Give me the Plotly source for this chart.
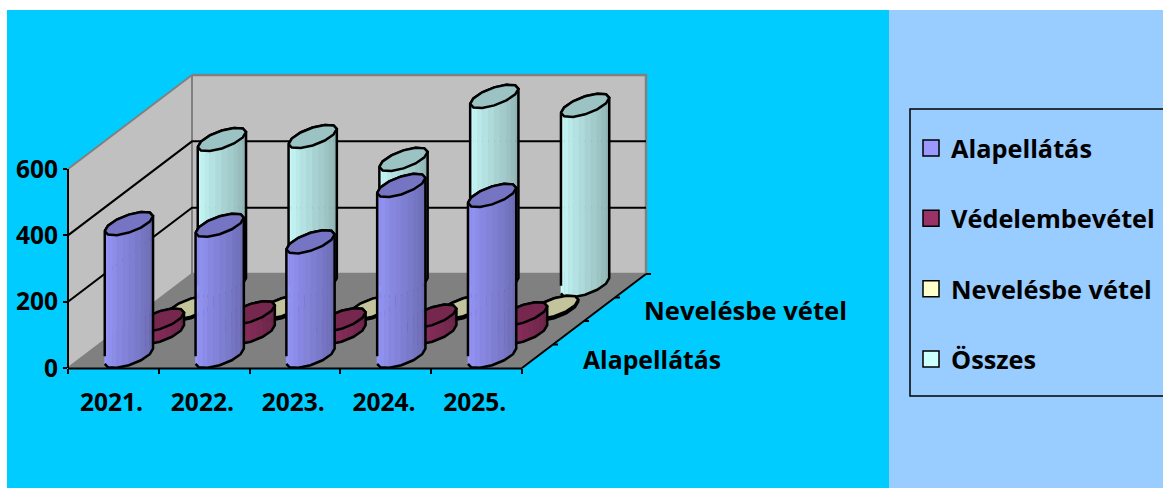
import math
import plotly.graph_objects as go

# ---- data ----
years = ["2021.", "2022.", "2023.", "2024.", "2025."]
series_names = ["Alapellátás", "Védelembevétel", "Nevelésbe vétel", "Összes"]
alapellatas = [400, 395, 345, 515, 485]
vedelembevetel = [38, 60, 39, 50, 57]
nevelesbe_vetel = [5, 6, 5, 6, 6]
osszes = [441, 450, 381, 571, 544]
value_ticks = [0, 200, 400, 600]
depth_labels = ["Alapellátás", "Nevelésbe vétel"]

series_values = [alapellatas, vedelembevetel, nevelesbe_vetel, osszes]
base_colors = [(0x99, 0x99, 0xFF), (0x99, 0x33, 0x66), (0xFF, 0xFF, 0xCC), (0xCC, 0xFF, 0xFF)]

# ---- page geometry ----
W, H = 1163, 488
LEFT, BOTTOM_PX = 68, 368
PX_PER_CAT = 90.8
PX_PER_VAL = 199 / 600
DEPTH_PX = (124, 94)
DX = DEPTH_PX[0] / PX_PER_CAT
DY = DEPTH_PX[1] / PX_PER_VAL
A = 18.5 / PX_PER_CAT
FONT = dict(family="Open Sans", size=24.5, color="black", weight=700)
FONT_WIDE = dict(FONT, size=25.3)
SIDES = 12


def px(x):
    return (x - LEFT) / (W - LEFT)


def py(y):
    return (BOTTOM_PX - y) / BOTTOM_PX


def rgb(c, f=1.0):
    return "rgb(%d,%d,%d)" % tuple(round(v * f) for v in c)


def depth(x, y, d):
    return x + d * DX, y + d * DY


fig = go.Figure()


def poly(xs, ys, fill=None, line="black", width=2):
    fig.add_trace(go.Scatter(
        x=list(xs), y=list(ys), mode="lines", fill="toself" if fill else "none",
        fillcolor=fill, line=dict(color=line, width=width), hoverinfo="skip",
        showlegend=False))


n_cat = len(years)
vmax = value_ticks[-1]

# walls and floor
back = [depth(0, 0, 1), depth(n_cat, 0, 1), depth(n_cat, vmax, 1), depth(0, vmax, 1)]
poly(*zip(*back), fill="#C0C0C0", line="#808080", width=2.5)
side = [(0, 0), depth(0, 0, 1), depth(0, vmax, 1), (0, vmax)]
poly(*zip(*side), fill="#C0C0C0", line="#808080", width=2)
floor = [(0, 0), (n_cat, 0), depth(n_cat, 0, 1), depth(0, 0, 1)]
poly(*zip(*floor), fill="#808080", line="#808080", width=1)

# gridlines
for v in value_ticks[1:-1]:
    pts = [(0, v), depth(0, v, 1), depth(n_cat, v, 1)]
    poly(*zip(*pts), line="black", width=2)

# cylinders, back row first
n_rows = len(series_values)
half_d = 0.5 / n_rows
half = SIDES // 2
for r in range(n_rows - 1, -1, -1):
    color = base_colors[r]
    d = (r + 0.5) / n_rows
    for c, val in enumerate(series_values[r]):
        cx, base = depth(c + 0.5, 0, d)
        bx, by = half_d * DX, half_d * DY
        t0 = math.atan2(bx, A)
        ring = [t0 + math.pi + k * 2 * math.pi / SIDES for k in range(SIDES + 1)]
        ex = [cx + A * math.cos(t) + bx * math.sin(t) for t in ring]
        ey = [by * math.sin(t) for t in ring]
        # shaded side faces, each split into two bands
        for k in range(half):
            for s in range(2):
                u0, u1 = s / 2, (s + 1) / 2
                x0 = ex[k] + (ex[k + 1] - ex[k]) * u0
                x1 = ex[k] + (ex[k + 1] - ex[k]) * u1
                y0 = ey[k] + (ey[k + 1] - ey[k]) * u0
                y1 = ey[k] + (ey[k + 1] - ey[k]) * u1
                f = 1 - 0.32 * (k + u0) / (half - 0.5)
                col = rgb(color, f)
                poly([x0, x1, x1, x0, x0],
                     [base + y0, base + y1, base + val + y1, base + val + y0, base + y0],
                     fill=col, line=col, width=0.6)
        # silhouette
        xs = ex[:half + 1] + ex[half:] + [ex[0]]
        ys = ([base + e for e in ey[:half + 1]]
              + [base + val + e for e in ey[half:]] + [base])
        poly(xs, ys, line="black", width=2.5)
        # top cap
        poly(ex, [base + val + e for e in ey], fill=rgb(color, 0.765), line="black", width=2.5)

# legend entries
for i, name in enumerate(series_names):
    fig.add_trace(go.Scatter(
        x=[None], y=[None], mode="markers", name=name, legendgroup=name,
        marker=dict(symbol="square", size=16, color=rgb(base_colors[i]),
                    line=dict(color="black", width=1.5))))

shapes = [
    dict(type="rect", xref="paper", yref="paper", x0=px(7), x1=px(889), y0=py(488), y1=py(10),
         fillcolor="#00CCFF", line_width=0, layer="below"),
    dict(type="rect", xref="paper", yref="paper", x0=px(889), x1=px(W), y0=py(488), y1=py(10),
         fillcolor="#99CCFF", line_width=0, layer="below"),
    dict(type="rect", xref="paper", yref="paper", x0=px(910), x1=px(W + 20), y0=py(396), y1=py(109),
         fillcolor="rgba(0,0,0,0)", line=dict(color="black", width=1.5), layer="below"),
]
# axis lines (front, left, depth) and depth ticks
axis_end = px(LEFT + n_cat * PX_PER_CAT)
line = dict(color="black", width=2)
shapes.append(dict(type="line", xref="paper", yref="paper", x0=0, x1=axis_end, y0=py(368.5), y1=py(368.5), line=line))
shapes.append(dict(type="line", xref="paper", yref="paper", x0=0, x1=0,
                   y0=0, y1=vmax * PX_PER_VAL / BOTTOM_PX, line=line))
x_end = LEFT + n_cat * PX_PER_CAT
shapes.append(dict(type="line", xref="paper", yref="paper",
                   x0=axis_end, y0=0, x1=px(x_end + DEPTH_PX[0]), y1=py(BOTTOM_PX - DEPTH_PX[1]), line=line))
for k in range(1, 5):
    xk = x_end + DEPTH_PX[0] * k / 4
    yk = BOTTOM_PX - DEPTH_PX[1] * k / 4
    shapes.append(dict(type="line", xref="paper", yref="paper",
                       x0=px(xk), x1=px(xk + 5), y0=py(yk), y1=py(yk), line=line))

annotations = [
    dict(text=depth_labels[0], xref="paper", yref="paper", x=px(581), y=py(359),
         xanchor="left", yanchor="middle", showarrow=False, font=dict(FONT, size=24.8)),
    dict(text=depth_labels[1], xref="paper", yref="paper", x=px(642), y=py(310),
         xanchor="left", yanchor="middle", showarrow=False, font=dict(FONT, size=25.6)),
]

fig.update_layout(
    width=W, height=H, autosize=False,
    margin=dict(l=LEFT, r=0, t=0, b=H - BOTTOM_PX, pad=0, autoexpand=False),
    paper_bgcolor="white", plot_bgcolor="rgba(0,0,0,0)",
    shapes=shapes, annotations=annotations,
    showlegend=True, hovermode=False,
    legend=dict(x=px(911), y=py(125), xanchor="left", yanchor="top", bgcolor="rgba(0,0,0,0)",
                borderwidth=0, font=FONT_WIDE, tracegroupgap=34.5,
                itemclick=False, itemdoubleclick=False),
    xaxis=dict(range=[0, (W - LEFT) / PX_PER_CAT], tickmode="array",
               tickvals=[i + 0.48 for i in range(n_cat)], ticktext=years,
               ticks="", showgrid=False, zeroline=False, showline=False,
               tickfont=FONT, ticklabelstandoff=17, fixedrange=True,
               minor=dict(tickmode="array", tickvals=list(range(n_cat + 1)), ticks="outside",
                          ticklen=5, tickwidth=2, tickcolor="black", showgrid=False)),
    yaxis=dict(range=[0, BOTTOM_PX / PX_PER_VAL], tickmode="array", tickvals=value_ticks,
               ticks="outside", ticklen=4, tickwidth=2, tickcolor="black",
               showgrid=False, zeroline=False, showline=False, tickfont=FONT,
               ticklabelstandoff=0, fixedrange=True),
)

fig.write_html("out.html", config=dict(displayModeBar=False),
               post_script="document.body.style.margin='0';document.body.style.overflow='hidden';")
